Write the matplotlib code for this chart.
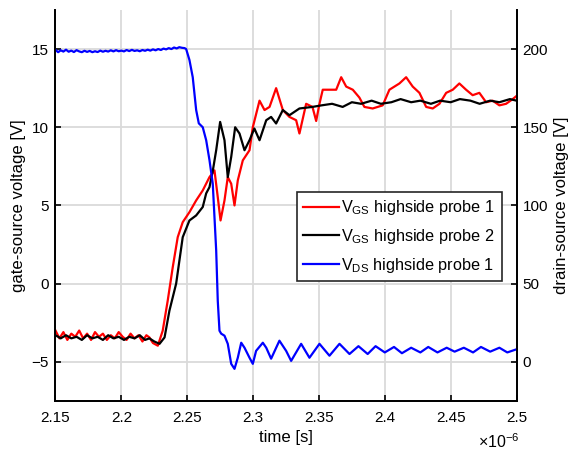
# Switching transient: gate-source and drain-source voltages
import matplotlib
matplotlib.use('Agg')
import matplotlib.pyplot as plt

plt.rcParams['font.family'] = ['Liberation Sans', 'DejaVu Sans']
plt.rcParams['mathtext.fontset'] = 'custom'
plt.rcParams['mathtext.rm'] = 'Liberation Sans'
plt.rcParams['mathtext.it'] = 'Liberation Sans'

# time in microseconds (axis shows x10^-6 s)
t_red = [2.150, 2.153, 2.156, 2.159, 2.162, 2.165, 2.168, 2.171, 2.174, 2.177,
         2.180, 2.183, 2.186, 2.189, 2.192, 2.195, 2.198, 2.201, 2.204, 2.207,
         2.210, 2.213, 2.216, 2.219, 2.2213, 2.224, 2.2277, 2.2314, 2.2352, 2.239,
         2.2428, 2.2466, 2.2517, 2.2568, 2.2618, 2.2669, 2.2707, 2.2732, 2.2753, 2.2783,
         2.2808, 2.2834, 2.2859, 2.2884, 2.2922, 2.2973, 2.2998, 2.3049, 2.3087, 2.3125,
         2.3175, 2.3226, 2.3276, 2.3327, 2.3352, 2.3403, 2.3451, 2.3479, 2.3504, 2.3529,
         2.358, 2.3631, 2.3669, 2.3707, 2.3757, 2.3807, 2.3845, 2.3908, 2.3984, 2.4035,
         2.4111, 2.4162, 2.4212, 2.4263, 2.4314, 2.4364, 2.4415, 2.4466, 2.4516, 2.4566,
         2.4617, 2.4667, 2.4718, 2.4769, 2.4819, 2.487, 2.4921, 2.4971, 2.500]
v_red = [-3.0, -3.5, -3.1, -3.6, -3.2, -3.4, -3.0, -3.5, -3.2, -3.6,
         -3.1, -3.4, -3.2, -3.6, -3.3, -3.5, -3.1, -3.4, -3.6, -3.2,
         -3.5, -3.3, -3.7, -3.3, -3.44, -3.8, -3.97, -3.01, -1.09, 1.04,
         2.97, 3.93, 4.57, 5.32, 5.96, 6.81, 7.24, 5.53, 4.04, 5.32,
         6.81, 6.39, 5.0, 6.6, 7.88, 8.53, 10.0, 11.7, 11.1, 11.3,
         12.5, 11.1, 10.66, 10.45, 9.6, 11.5, 11.3, 10.4, 11.5, 12.4,
         12.4, 12.4, 13.2, 12.6, 12.4, 11.9, 11.3, 11.2, 11.4, 12.4,
         12.8, 13.2, 12.6, 12.2, 11.3, 11.2, 11.5, 12.2, 12.4, 12.8,
         12.4, 12.05, 12.2, 11.6, 11.7, 11.4, 11.5, 11.8, 12.0]

t_black = [2.150, 2.154, 2.158, 2.162, 2.166, 2.170, 2.174, 2.178, 2.182, 2.186,
           2.190, 2.194, 2.198, 2.202, 2.206, 2.210, 2.214, 2.218, 2.2213, 2.225,
           2.229, 2.2328, 2.2365, 2.2416, 2.2466, 2.2517, 2.2568, 2.2618, 2.2644, 2.2669,
           2.2694, 2.272, 2.275, 2.2783, 2.2808, 2.2834, 2.2864, 2.2897, 2.2935, 2.2973,
           2.301, 2.3049, 2.310, 2.3137, 2.3175, 2.3226, 2.3276, 2.3352, 2.345, 2.352,
           2.360, 2.368, 2.375, 2.382, 2.390, 2.397, 2.405, 2.412, 2.420, 2.427,
           2.435, 2.442, 2.450, 2.457, 2.465, 2.472, 2.480, 2.487, 2.495, 2.500]
v_black = [-3.3, -3.5, -3.3, -3.5, -3.4, -3.6, -3.3, -3.5, -3.4, -3.6,
           -3.3, -3.5, -3.4, -3.6, -3.4, -3.5, -3.3, -3.6, -3.5, -3.7,
           -3.85, -3.44, -1.73, 0.0, 2.97, 4.04, 4.36, 4.9, 5.77, 6.17,
           7.2, 8.53, 10.34, 9.17, 6.81, 8.1, 10.0, 9.6, 8.53, 9.17,
           9.92, 9.17, 10.45, 10.66, 10.24, 11.1, 10.77, 11.2, 11.3, 11.4,
           11.5, 11.3, 11.6, 11.5, 11.7, 11.5, 11.6, 11.8, 11.6, 11.7,
           11.5, 11.7, 11.6, 11.8, 11.7, 11.5, 11.7, 11.6, 11.8, 11.7]

t_blue = [2.150, 2.152, 2.154, 2.156, 2.158, 2.160, 2.162, 2.164, 2.166, 2.168,
          2.170, 2.172, 2.174, 2.176, 2.178, 2.180, 2.182, 2.184, 2.186, 2.188,
          2.190, 2.192, 2.194, 2.196, 2.198, 2.200, 2.202, 2.204, 2.206, 2.208,
          2.210, 2.212, 2.214, 2.216, 2.218, 2.220, 2.222, 2.224, 2.226, 2.228,
          2.230, 2.232, 2.234, 2.236, 2.238, 2.240, 2.242, 2.244, 2.246, 2.248,
          2.2492, 2.2517, 2.2542, 2.2568, 2.2588, 2.2618, 2.2644, 2.2669, 2.2694, 2.272,
          2.2732, 2.2745, 2.2758, 2.2783, 2.2808, 2.2834, 2.2859, 2.2884, 2.291, 2.2935,
          2.2973, 2.2998, 2.3023, 2.3074, 2.310, 2.3137, 2.320, 2.3251, 2.3289, 2.3365,
          2.3428, 2.3504, 2.358, 2.3656, 2.3732, 2.380, 2.387, 2.393, 2.400, 2.407,
          2.413, 2.420, 2.427, 2.433, 2.440, 2.447, 2.453, 2.460, 2.467, 2.473,
          2.480, 2.487, 2.493, 2.500]
v_blue = [199.5, 198.0, 199.2, 198.4, 199.6, 198.3, 199.0, 198.1, 199.3, 198.5,
          198.0, 198.9, 198.2, 198.8, 198.0, 198.6, 198.1, 199.0, 198.3, 198.9,
          198.4, 199.2, 198.5, 199.3, 198.6, 199.0, 198.5, 199.4, 198.7, 199.5,
          198.8, 199.2, 198.6, 199.4, 198.9, 199.6, 199.0, 199.8, 199.2, 200.0,
          199.4, 200.3, 199.8, 200.6, 200.0, 201.0, 200.4, 201.2, 200.8, 200.6,
          200.0, 193.0, 182.0, 161.0, 152.5, 150.0, 141.7, 129.0, 113.9, 71.2,
          39.0, 19.9, 18.0, 16.7, 11.5, -1.3, -4.5, 2.6, 12.2, 9.0,
          2.6, -1.3, 7.0, 12.2, 9.0, 2.0, 13.5, 7.0, 0.6, 11.5,
          2.6, 11.5, 3.9, 11.5, 5.0, 10.0, 5.0, 10.0, 6.0, 9.5,
          5.5, 9.0, 6.0, 9.5, 6.0, 9.0, 6.5, 9.0, 6.0, 9.5,
          6.5, 9.0, 6.0, 8.0]

x_ticks = [2.15, 2.2, 2.25, 2.3, 2.35, 2.4, 2.45, 2.5]
x_tick_labels = ['2.15', '2.2', '2.25', '2.3', '2.35', '2.4', '2.45', '2.5']
left_ticks = [-5, 0, 5, 10, 15]
right_ticks = [0, 50, 100, 150, 200]

fig = plt.figure(figsize=(5.72, 4.53), dpi=100)
ax = fig.add_axes([0.097, 0.115, 0.806, 0.863])
ax2 = ax.twinx()

l1, = ax.plot(t_red, v_red, color='red', lw=1.6)
l2, = ax.plot(t_black, v_black, color='black', lw=1.6)
l3, = ax2.plot(t_blue, v_blue, color='blue', lw=1.6)

ax.set_xlim(2.15, 2.5)
ax.set_ylim(-7.5, 17.5)
ax2.set_ylim(-25, 225)

ax.set_xticks(x_ticks)
ax.set_xticklabels(x_tick_labels)
ax.set_yticks(left_ticks)
ax2.set_yticks(right_ticks)

ax.grid(True, color='#dadada', lw=1.3)
ax.set_axisbelow(True)

for a in (ax, ax2):
    a.spines['top'].set_visible(False)
    for s in ('left', 'right', 'bottom'):
        a.spines[s].set_linewidth(1.3)
    a.tick_params(direction='in', length=4, width=1.2, labelsize=11)
ax.tick_params(axis='x', pad=7)
ax.tick_params(axis='y', right=False, pad=5)
ax2.tick_params(axis='y', left=False, pad=4.3)

ax.set_xlabel('time [s]', fontsize=12.1, labelpad=4)
ax.set_ylabel('gate-source voltage [V]', fontsize=12.1, labelpad=4)
ax2.set_ylabel('drain-source voltage [V]', fontsize=12.1, labelpad=4)

fig.text(0.836, 0.012, r'$\times\mathregular{10^{-6}}$', fontsize=11.5)

leg = ax2.legend([l1, l2, l3],
                 [r'$\mathregular{V_{GS}}$ highside probe 1',
                  r'$\mathregular{V_{GS}}$ highside probe 2',
                  r'$\mathregular{V_{DS}}$ highside probe 1'],
                 loc='upper left', bbox_to_anchor=(0.523, 0.535),
                 fontsize=11.7, fancybox=False, framealpha=1,
                 edgecolor='#262626', handlelength=2.2, handletextpad=0.15,
                 labelspacing=0.6, borderpad=0.4, borderaxespad=0)
leg.get_frame().set_linewidth(1.2)

fig.savefig('out.png', dpi=100)
